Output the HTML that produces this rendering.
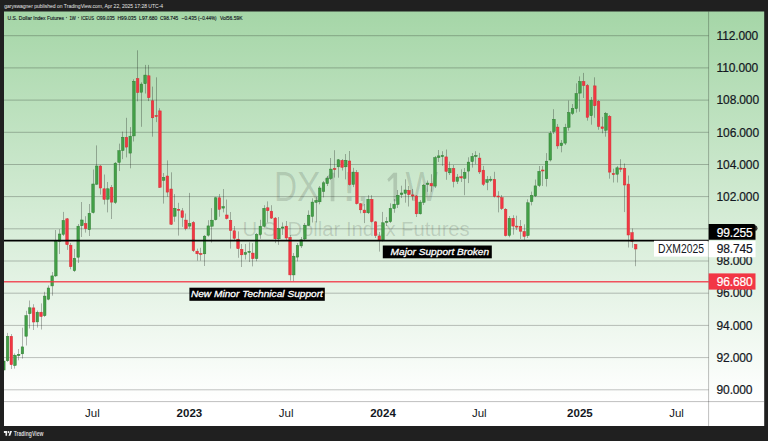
<!DOCTYPE html>
<html><head><meta charset="utf-8"><style>
html,body{margin:0;padding:0;}
body{width:768px;height:441px;overflow:hidden;background:#202020;position:relative;font-family:"Liberation Sans",sans-serif;}
svg{position:absolute;left:0;top:0;}
</style></head><body>
<svg width="768" height="441" viewBox="0 0 768 441">
<defs><linearGradient id="bg" x1="0" y1="11" x2="0" y2="401" gradientUnits="userSpaceOnUse"><stop offset="0" stop-color="#a5d6a7"/><stop offset="1" stop-color="#ffffff"/></linearGradient><clipPath id="cp"><rect x="4" y="11" width="704.6" height="390.6"/></clipPath></defs>
<rect x="4" y="11.5" width="760.2" height="414.5" fill="url(#bg)"/>
<g font-family="Liberation Sans, sans-serif" fill="#000" fill-opacity="0.14">
<text x="0" y="201.2" font-size="42" transform="translate(274.35 0) scale(0.75 1)">D</text><text x="0" y="201.2" font-size="42" transform="translate(296.96 0) scale(0.842 1)">X</text><text x="0" y="201.2" font-size="42" transform="translate(342.35 0) scale(1.2 1)">!</text><text x="0" y="201.2" font-size="42" transform="translate(356.6 0) scale(1.1 1)">,</text><text x="0" y="201.2" font-size="42" transform="translate(405.5 0) scale(0.82 1)">W</text><path d="M330.7 172.7H334.4V201.2H330.7V177.6L326.1 181.9L324.6 179.3ZM393.4 172.7H397.1V201.2H393.4V177.6L388.8 181.9L387.3 179.3Z"/>
<text x="0" y="236.2" font-size="19.3" transform="translate(242.5 0) scale(1.05 1)">U.S. Dollar Index Futures</text>
</g>
<path d="M4 35.7H708.6M4 67.9H708.6M4 100.1H708.6M4 132.3H708.6M4 164.5H708.6M4 196.6H708.6M4 228.8H708.6M4 261.0H708.6M4 293.2H708.6M4 325.4H708.6M4 357.6H708.6M4 389.8H708.6" stroke="#000" stroke-opacity="0.24" stroke-width="1" fill="none"/>
<g clip-path="url(#cp)">
<path d="M3.5 358.0V372.0M7.5 332.9V362.0M11.5 334.0V369.0M14.5 353.4V368.6M18.5 349.0V360.3M22.5 327.7V358.6M26.5 310.8V345.5M29.5 300.5V328.5M33.5 304.2V330.0M37.5 310.5V327.6M41.5 303.4V329.5M44.5 291.8V317.0M48.5 285.4V300.3M52.5 272.0V295.7M55.5 230.0V277.0M59.5 229.2V254.0M63.5 211.9V236.0M67.5 218.0V249.9M70.5 243.0V269.3M74.5 249.0V272.0M78.5 224.0V263.0M81.5 202.0V237.0M85.5 216.2V232.6M89.5 204.0V236.0M93.5 169.5V213.5M96.5 145.4V185.0M100.5 165.0V194.6M104.5 174.5V204.5M107.5 182.0V212.4M111.5 185.0V219.0M115.5 162.0V204.0M119.5 143.6V171.0M122.5 131.6V159.2M126.5 117.8V157.4M130.5 127.1V168.3M133.5 79.3V141.5M137.5 50.3V101.3M141.5 82.3V126.8M145.5 64.9V93.5M148.5 64.9V101.1M152.5 86.6V136.7M156.5 77.3V122.1M159.5 108.2V188.0M163.5 173.0V203.6M167.5 160.4V196.7M171.5 172.3V225.0M174.5 194.1V221.8M178.5 202.8V235.6M182.5 208.0V226.9M185.5 213.5V230.4M189.5 192.9V228.6M193.5 221.0V252.0M197.5 248.6V260.7M200.5 247.8V260.7M204.5 235.0V266.0M208.5 220.2V236.6M211.5 208.1V242.6M215.5 196.9V220.5M219.5 194.0V216.7M223.5 189.0V212.4M226.5 199.5V219.5M230.5 212.0V248.6M234.5 226.0V240.0M238.5 231.4V257.8M241.5 244.0V267.0M245.5 244.0V259.5M249.5 242.3V262.0M252.5 243.1V266.4M256.5 233.0V261.2M260.5 219.8V238.8M264.5 205.2V227.6M267.5 201.4V222.4M271.5 205.2V219.0M275.5 217.0V243.1M278.5 217.0V244.9M282.5 222.4V235.0M286.5 221.0V240.0M290.5 235.0V280.7M293.5 253.0V281.2M297.5 243.0V261.4M301.5 237.0V248.0M304.5 223.0V240.0M308.5 210.4V226.0M312.5 198.3V222.5M316.5 197.0V222.5M319.5 186.0V204.3M323.5 181.0V197.4M327.5 176.0V186.0M330.5 158.0V180.0M334.5 150.2V177.6M338.5 159.0V177.7M342.5 159.0V170.5M345.5 154.0V179.4M349.5 151.0V185.5M353.5 167.8V187.1M356.5 170.0V204.5M360.5 203.0V213.3M364.5 204.0V223.1M368.5 195.2V214.0M371.5 195.2V222.5M375.5 221.0V238.0M379.5 232.0V251.6M382.5 211.9V241.5M386.5 217.1V226.0M390.5 203.3V223.0M394.5 199.0V212.8M397.5 190.0V208.0M401.5 185.7V198.0M405.5 179.3V202.7M408.5 186.0V206.5M412.5 189.0V200.4M416.5 195.0V217.0M420.5 200.0V214.5M423.5 184.0V205.0M427.5 180.5V191.8M431.5 174.2V191.8M435.5 156.0V188.0M438.5 150.0V162.0M442.5 151.2V165.9M446.5 149.5V179.8M449.5 161.6V175.0M453.5 165.0V187.4M457.5 174.0V184.0M461.5 169.3V182.0M464.5 168.0V195.2M468.5 157.3V183.1M472.5 153.0V167.6M475.5 151.2V164.2M479.5 152.9V174.0M483.5 165.9V186.0M487.5 176.0V190.2M490.5 176.2V182.0M494.5 171.8V197.5M498.5 191.2V212.4M501.5 195.0V210.0M505.5 208.0V236.5M509.5 216.0V237.3M513.5 215.2V234.7M516.5 215.7V230.0M520.5 220.0V239.0M524.5 224.3V239.9M527.5 199.3V238.0M531.5 191.6V205.4M535.5 179.5V197.0M539.5 166.0V187.0M542.5 166.0V186.0M546.5 153.1V186.5M550.5 131.0V161.5M553.5 109.2V134.0M557.5 124.0V148.8M561.5 140.0V152.3M565.5 123.8V145.0M568.5 100.5V130.7M572.5 104.0V115.0M576.5 83.3V112.6M579.5 76.4V111.8M583.5 72.9V98.0M587.5 84.0V120.7M591.5 97.0V124.7M594.5 77.3V117.8M598.5 100.0V129.8M602.5 116.9V133.3M605.5 112.0V136.7M609.5 115.0V178.7M613.5 168.7V182.5M617.5 166.0V182.5M620.5 159.2V172.1M624.5 163.5V212.1M628.5 175.5V247.5M632.5 228.5V247.8M635.5 244.4V266.2" stroke="#000" stroke-opacity="0.28" stroke-width="1" fill="none"/>
<g fill="#43a047" stroke="#2e7d32" stroke-width="0.5"><rect x="2.58" y="361.0" width="2.5" height="9.0"/><rect x="6.30" y="336.3" width="2.5" height="24.4"/><rect x="13.73" y="355.2" width="2.5" height="10.3"/><rect x="17.45" y="354.3" width="2.5" height="1.4"/><rect x="21.17" y="346.9" width="2.5" height="6.9"/><rect x="24.89" y="315.7" width="2.5" height="20.5"/><rect x="28.60" y="307.8" width="2.5" height="5.8"/><rect x="36.04" y="312.2" width="2.5" height="9.7"/><rect x="43.47" y="296.1" width="2.5" height="19.6"/><rect x="47.19" y="288.0" width="2.5" height="11.2"/><rect x="50.90" y="275.9" width="2.5" height="10.0"/><rect x="54.62" y="241.2" width="2.5" height="34.7"/><rect x="58.34" y="234.0" width="2.5" height="7.2"/><rect x="62.05" y="220.5" width="2.5" height="13.8"/><rect x="73.21" y="258.3" width="2.5" height="12.4"/><rect x="76.92" y="226.2" width="2.5" height="31.0"/><rect x="80.64" y="220.0" width="2.5" height="5.7"/><rect x="88.07" y="213.3" width="2.5" height="16.4"/><rect x="91.79" y="184.0" width="2.5" height="28.6"/><rect x="95.51" y="166.0" width="2.5" height="18.2"/><rect x="106.66" y="188.8" width="2.5" height="10.4"/><rect x="114.09" y="163.2" width="2.5" height="39.3"/><rect x="117.81" y="150.7" width="2.5" height="11.7"/><rect x="121.53" y="137.3" width="2.5" height="13.2"/><rect x="128.96" y="136.2" width="2.5" height="16.9"/><rect x="132.68" y="81.3" width="2.5" height="54.6"/><rect x="140.11" y="84.1" width="2.5" height="8.1"/><rect x="143.83" y="75.1" width="2.5" height="8.6"/><rect x="162.41" y="177.4" width="2.5" height="2.9"/><rect x="173.57" y="208.3" width="2.5" height="7.9"/><rect x="188.43" y="223.5" width="2.5" height="2.6"/><rect x="203.30" y="236.2" width="2.5" height="17.6"/><rect x="207.02" y="225.9" width="2.5" height="9.3"/><rect x="210.74" y="220.2" width="2.5" height="6.0"/><rect x="214.45" y="197.8" width="2.5" height="21.9"/><rect x="221.89" y="206.7" width="2.5" height="1.4"/><rect x="244.19" y="252.6" width="2.5" height="1.7"/><rect x="247.91" y="251.4" width="2.5" height="1.0"/><rect x="255.34" y="234.5" width="2.5" height="24.1"/><rect x="259.06" y="226.2" width="2.5" height="8.3"/><rect x="262.77" y="208.3" width="2.5" height="17.9"/><rect x="277.64" y="228.5" width="2.5" height="10.3"/><rect x="281.36" y="227.0" width="2.5" height="1.1"/><rect x="292.51" y="256.2" width="2.5" height="18.7"/><rect x="296.23" y="245.5" width="2.5" height="11.6"/><rect x="299.94" y="239.8" width="2.5" height="6.1"/><rect x="303.66" y="225.2" width="2.5" height="13.8"/><rect x="307.38" y="215.2" width="2.5" height="10.0"/><rect x="311.09" y="202.1" width="2.5" height="14.3"/><rect x="314.81" y="200.5" width="2.5" height="1.8"/><rect x="318.53" y="188.0" width="2.5" height="13.8"/><rect x="322.25" y="182.8" width="2.5" height="8.6"/><rect x="325.96" y="178.1" width="2.5" height="5.5"/><rect x="329.68" y="169.1" width="2.5" height="9.4"/><rect x="337.11" y="159.8" width="2.5" height="7.0"/><rect x="344.55" y="160.3" width="2.5" height="6.5"/><rect x="351.98" y="172.1" width="2.5" height="12.3"/><rect x="366.85" y="199.3" width="2.5" height="13.5"/><rect x="381.72" y="222.8" width="2.5" height="17.6"/><rect x="385.43" y="221.4" width="2.5" height="1.0"/><rect x="389.15" y="208.5" width="2.5" height="13.2"/><rect x="392.87" y="204.2" width="2.5" height="4.3"/><rect x="396.59" y="195.3" width="2.5" height="9.2"/><rect x="400.30" y="193.0" width="2.5" height="1.5"/><rect x="404.02" y="190.0" width="2.5" height="3.3"/><rect x="418.89" y="202.1" width="2.5" height="11.7"/><rect x="422.60" y="185.2" width="2.5" height="17.1"/><rect x="426.32" y="183.1" width="2.5" height="1.4"/><rect x="433.75" y="157.6" width="2.5" height="28.5"/><rect x="437.47" y="155.9" width="2.5" height="1.7"/><rect x="441.19" y="155.5" width="2.5" height="1.2"/><rect x="448.62" y="168.5" width="2.5" height="4.3"/><rect x="456.06" y="177.1" width="2.5" height="4.2"/><rect x="463.49" y="172.4" width="2.5" height="5.9"/><rect x="467.21" y="162.1" width="2.5" height="9.0"/><rect x="470.93" y="156.4" width="2.5" height="5.2"/><rect x="474.64" y="155.5" width="2.5" height="1.0"/><rect x="485.79" y="179.6" width="2.5" height="2.8"/><rect x="489.51" y="179.2" width="2.5" height="1.0"/><rect x="508.10" y="218.3" width="2.5" height="17.1"/><rect x="526.68" y="202.8" width="2.5" height="32.8"/><rect x="530.40" y="195.5" width="2.5" height="6.1"/><rect x="534.11" y="185.9" width="2.5" height="10.0"/><rect x="537.83" y="171.4" width="2.5" height="14.1"/><rect x="545.26" y="161.2" width="2.5" height="17.5"/><rect x="548.98" y="133.3" width="2.5" height="26.7"/><rect x="552.70" y="119.3" width="2.5" height="12.3"/><rect x="560.13" y="143.1" width="2.5" height="2.6"/><rect x="563.85" y="127.3" width="2.5" height="15.8"/><rect x="567.57" y="112.6" width="2.5" height="14.7"/><rect x="571.28" y="108.6" width="2.5" height="4.7"/><rect x="575.00" y="93.6" width="2.5" height="15.0"/><rect x="578.72" y="81.6" width="2.5" height="11.5"/><rect x="589.87" y="100.2" width="2.5" height="15.5"/><rect x="604.74" y="113.5" width="2.5" height="16.7"/><rect x="615.89" y="167.8" width="2.5" height="6.4"/></g>
<g fill="#f23645" stroke="#d32f2f" stroke-width="0.5"><rect x="10.02" y="336.3" width="2.5" height="28.4"/><rect x="32.32" y="307.9" width="2.5" height="14.1"/><rect x="39.75" y="312.2" width="2.5" height="4.3"/><rect x="65.77" y="218.8" width="2.5" height="25.9"/><rect x="69.49" y="245.2" width="2.5" height="21.5"/><rect x="84.36" y="223.6" width="2.5" height="5.0"/><rect x="99.22" y="166.0" width="2.5" height="22.0"/><rect x="102.94" y="188.8" width="2.5" height="10.6"/><rect x="110.38" y="187.6" width="2.5" height="14.5"/><rect x="125.24" y="137.3" width="2.5" height="9.8"/><rect x="136.40" y="78.7" width="2.5" height="13.8"/><rect x="147.55" y="75.8" width="2.5" height="21.9"/><rect x="151.26" y="100.8" width="2.5" height="17.0"/><rect x="154.98" y="115.5" width="2.5" height="1.1"/><rect x="158.70" y="110.9" width="2.5" height="76.4"/><rect x="166.13" y="176.0" width="2.5" height="16.1"/><rect x="169.85" y="189.0" width="2.5" height="35.3"/><rect x="177.28" y="209.3" width="2.5" height="1.0"/><rect x="181.00" y="210.8" width="2.5" height="6.7"/><rect x="184.72" y="220.1" width="2.5" height="8.6"/><rect x="192.15" y="222.5" width="2.5" height="28.2"/><rect x="195.87" y="251.2" width="2.5" height="2.6"/><rect x="199.58" y="253.5" width="2.5" height="1.0"/><rect x="218.17" y="197.8" width="2.5" height="11.5"/><rect x="225.60" y="215.0" width="2.5" height="3.5"/><rect x="229.32" y="220.3" width="2.5" height="10.1"/><rect x="233.04" y="230.8" width="2.5" height="7.5"/><rect x="236.75" y="239.2" width="2.5" height="9.5"/><rect x="240.47" y="249.3" width="2.5" height="5.5"/><rect x="251.62" y="253.1" width="2.5" height="5.5"/><rect x="266.49" y="207.8" width="2.5" height="2.9"/><rect x="270.21" y="211.2" width="2.5" height="6.9"/><rect x="273.92" y="218.1" width="2.5" height="20.7"/><rect x="285.08" y="226.2" width="2.5" height="11.8"/><rect x="288.79" y="237.2" width="2.5" height="37.7"/><rect x="333.40" y="168.5" width="2.5" height="1.1"/><rect x="340.83" y="160.4" width="2.5" height="6.9"/><rect x="348.26" y="161.0" width="2.5" height="23.6"/><rect x="355.70" y="172.5" width="2.5" height="31.1"/><rect x="359.42" y="203.8" width="2.5" height="6.0"/><rect x="363.13" y="210.1" width="2.5" height="2.7"/><rect x="370.57" y="199.3" width="2.5" height="22.1"/><rect x="374.28" y="221.9" width="2.5" height="13.6"/><rect x="378.00" y="236.0" width="2.5" height="4.4"/><rect x="407.74" y="190.4" width="2.5" height="4.1"/><rect x="411.45" y="194.9" width="2.5" height="1.1"/><rect x="415.17" y="196.0" width="2.5" height="17.8"/><rect x="430.04" y="183.5" width="2.5" height="2.4"/><rect x="444.91" y="156.9" width="2.5" height="14.5"/><rect x="452.34" y="168.5" width="2.5" height="12.9"/><rect x="459.77" y="176.7" width="2.5" height="1.3"/><rect x="478.36" y="158.1" width="2.5" height="13.8"/><rect x="482.08" y="170.2" width="2.5" height="14.1"/><rect x="493.23" y="179.4" width="2.5" height="17.0"/><rect x="496.94" y="196.0" width="2.5" height="1.0"/><rect x="500.66" y="197.7" width="2.5" height="10.8"/><rect x="504.38" y="209.3" width="2.5" height="26.3"/><rect x="511.81" y="218.3" width="2.5" height="7.8"/><rect x="515.53" y="226.1" width="2.5" height="1.0"/><rect x="519.25" y="226.4" width="2.5" height="4.8"/><rect x="522.96" y="231.6" width="2.5" height="4.8"/><rect x="541.55" y="170.0" width="2.5" height="1.0"/><rect x="556.42" y="127.1" width="2.5" height="18.8"/><rect x="582.43" y="81.6" width="2.5" height="3.9"/><rect x="586.15" y="85.5" width="2.5" height="31.8"/><rect x="593.59" y="85.9" width="2.5" height="19.8"/><rect x="597.30" y="101.4" width="2.5" height="25.0"/><rect x="601.02" y="126.9" width="2.5" height="1.6"/><rect x="608.45" y="116.4" width="2.5" height="55.7"/><rect x="612.17" y="173.5" width="2.5" height="1.2"/><rect x="619.61" y="168.1" width="2.5" height="1.1"/><rect x="623.32" y="168.3" width="2.5" height="16.7"/><rect x="627.04" y="184.1" width="2.5" height="50.9"/><rect x="630.76" y="232.7" width="2.5" height="8.7"/><rect x="634.47" y="244.4" width="2.5" height="4.6"/></g>
</g>
<path d="M4 240.6H708.6" stroke="#000" stroke-width="1.7"/>
<path d="M4 281.7H708.6" stroke="#f23645" stroke-opacity="0.85" stroke-width="1.5"/>
<path d="M708.6 11.5V426M4 401.6H764" stroke="#000" stroke-opacity="0.25" stroke-width="1"/>
<g font-size="12" letter-spacing="-0.15" fill="#131722" stroke="#131722" stroke-width="0.2"><text x="716.6" y="39.9">112.000</text><text x="716.6" y="72.1">110.000</text><text x="716.6" y="104.3">108.000</text><text x="716.6" y="136.5">106.000</text><text x="716.6" y="168.7">104.000</text><text x="716.6" y="200.8">102.000</text><text x="716.6" y="265.2">98.000</text><text x="716.6" y="297.4">96.000</text><text x="716.6" y="329.6">94.000</text><text x="716.6" y="361.8">92.000</text><text x="716.6" y="394.0">90.000</text></g>
<g font-size="11.5" fill="#131722"><text x="92.4" y="416.6" text-anchor="middle">Jul</text><text x="189.4" y="416.6" text-anchor="middle" font-weight="bold">2023</text><text x="286.1" y="416.6" text-anchor="middle">Jul</text><text x="383.0" y="416.6" text-anchor="middle" font-weight="bold">2024</text><text x="479.3" y="416.6" text-anchor="middle">Jul</text><text x="579.9" y="416.6" text-anchor="middle" font-weight="bold">2025</text><text x="676.5" y="416.6" text-anchor="middle">Jul</text></g>
<ellipse cx="755.6" cy="228.2" rx="1.9" ry="2.6" fill="#3a3d3a"/>
<path d="M708.7 223.9H753.5A2 2 0 0 1 755.5 225.9V239.8H708.7Z" fill="#000"/>
<text x="716.8" y="236.6" font-size="12" letter-spacing="-0.15" fill="#fff" stroke="#fff" stroke-width="0.2">99.255</text>
<rect x="654" y="240.8" width="53.8" height="15.8" fill="#fff"/>
<text x="658" y="253.2" font-size="12.2" fill="#131722" textLength="46" lengthAdjust="spacingAndGlyphs">DXM2025</text>
<rect x="708.7" y="240.9" width="46.8" height="16.3" fill="#fff"/>
<text x="716.8" y="253" font-size="12" letter-spacing="-0.15" fill="#131722" stroke="#131722" stroke-width="0.2">98.745</text>
<rect x="708.7" y="273.4" width="46.8" height="16.2" fill="#f23645"/>
<text x="716.8" y="285.8" font-size="12" letter-spacing="-0.15" fill="#fff" stroke="#fff" stroke-width="0.2">96.680</text>
<rect x="382.8" y="245.5" width="109" height="12.8" fill="#000"/>
<text x="390.6" y="254.6" font-size="9.8" font-style="italic" fill="#fff" stroke="#fff" stroke-width="0.3" textLength="98.5" lengthAdjust="spacingAndGlyphs">Major Support Broken</text>
<rect x="189.4" y="287.7" width="135.4" height="13.1" fill="#000"/>
<text x="190.9" y="296.8" font-size="9.8" font-style="italic" fill="#fff" stroke="#fff" stroke-width="0.3" textLength="132" lengthAdjust="spacingAndGlyphs">New Minor Technical Support</text>
</svg>
<svg width="768" height="30" style="left:0;top:0" viewBox="0 0 768 30"><g font-family="Liberation Sans, sans-serif" font-size="5.9" fill="#131722" stroke="#131722" stroke-width="0.15"><text x="7.6" y="19.5" textLength="56.4" lengthAdjust="spacingAndGlyphs">U.S. Dollar Index Futures</text><circle cx="66.4" cy="17.6" r="0.45"/><text x="69.4" y="19.5" textLength="6.4" lengthAdjust="spacingAndGlyphs">1W</text><circle cx="78.4" cy="17.6" r="0.45"/><text x="81.1" y="19.5" textLength="12.9" lengthAdjust="spacingAndGlyphs">ICEUS</text><text x="96.4" y="19.5" textLength="18.3" lengthAdjust="spacingAndGlyphs">O99.035</text><text x="117.5" y="19.5" textLength="18.9" lengthAdjust="spacingAndGlyphs">H99.035</text><text x="139.1" y="19.5" textLength="18.3" lengthAdjust="spacingAndGlyphs">L97.680</text><text x="160.1" y="19.5" textLength="18.2" lengthAdjust="spacingAndGlyphs">C98.745</text><text x="181.6" y="19.5" textLength="15.0" lengthAdjust="spacingAndGlyphs">−0.435</text><text x="198.0" y="19.5" textLength="18.6" lengthAdjust="spacingAndGlyphs">(−0.44%)</text><text x="219.9" y="19.5" textLength="22.6" lengthAdjust="spacingAndGlyphs">Vol56.59K</text></g>
<text x="4.2" y="8.4" font-family="Liberation Sans, sans-serif" font-size="5.6" fill="#e8e8e8" textLength="158.9" lengthAdjust="spacingAndGlyphs">garyswagner published on TradingView.com, Apr 22, 2025 17:28 UTC-4</text></svg>
<svg width="60" height="13" style="left:0;top:428px" viewBox="0 428 60 13">
<text x="13.7" y="435.6" font-size="6.6" font-weight="bold" fill="#d8d8d8" textLength="29.7" lengthAdjust="spacingAndGlyphs" font-family="Liberation Sans, sans-serif">TradingView</text>
<g transform="translate(3.9 430) scale(0.228 0.262)" fill="#f0f0f0"><path d="M14 22H7V11H0V4h14v18zM28 22h-8l7.5-18h8L28 22z"/><circle cx="20" cy="8" r="4"/></g>
</svg>
</body></html>
